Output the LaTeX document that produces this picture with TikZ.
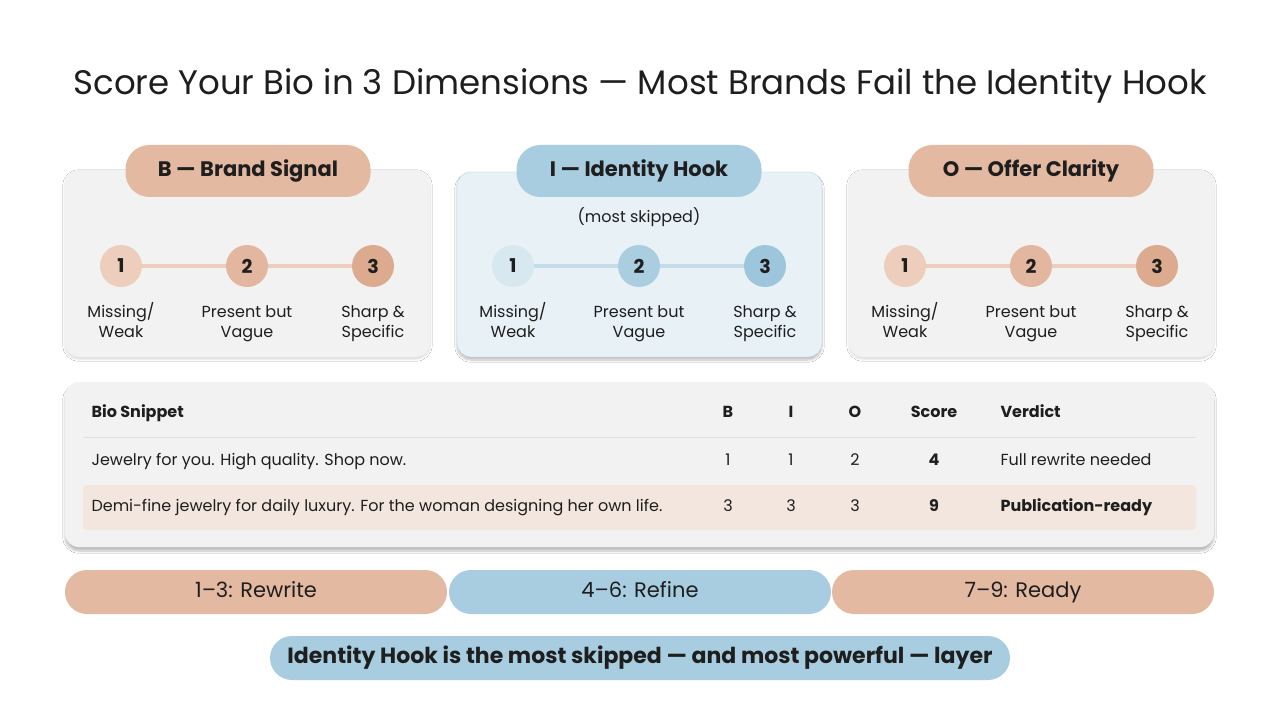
\documentclass[tikz,border=0pt]{standalone}
\usepackage{fontspec}
\setmainfont{Poppins}
\usetikzlibrary{shadows.blur}
\definecolor{peach}{HTML}{E3B9A2}
\definecolor{sky}{HTML}{A9CDE0}
\definecolor{card}{HTML}{F2F2F2}
\definecolor{ink}{HTML}{1E1E1E}
\definecolor{pA}{HTML}{EDCDBC}\definecolor{pB}{HTML}{E3B69F}\definecolor{pC}{HTML}{DCAA8F}
\definecolor{bA}{HTML}{D8E8F0}\definecolor{bB}{HTML}{AACDE0}\definecolor{bC}{HTML}{9DC5DB}
\definecolor{rowhl}{HTML}{F3E6DE}
\tikzset{
 cardbox/.style={fill=card,rounded corners=14pt},
 hdrpill/.style={rounded corners=24pt,minimum width=245pt,minimum height=52pt,font=\fontsize{21}{24}\selectfont\bfseries,text=ink},
 dot/.style={circle,minimum size=42pt,inner sep=0pt,font=\fontsize{19}{22}\selectfont\bfseries,text=ink},
 lab/.style={align=center,font=\fontsize{16}{20}\selectfont,text=ink},
 cell/.style={font=\fontsize{16}{20}\selectfont,text=ink,text height=12pt,text depth=4pt},
 hcell/.style={font=\fontsize{16}{20}\selectfont\bfseries,text=ink,text height=12pt,text depth=4pt},
 band/.style={rounded corners=22pt,minimum height=44pt,text height=15pt,text depth=5pt,font=\fontsize{21}{24}\selectfont,text=ink},
}
\begin{document}
\begin{tikzpicture}[x=1pt,y=-1pt]
\fill[white] (0,0) rectangle (1280,714);
\node[font=\fontsize{34}{38}\selectfont,text=ink] (title) at (640,86) {Score Your Bio in 3 Dimensions — Most Brands Fail the Identity Hook};
% cards
\fill[cardbox,blur shadow={shadow blur steps=6,shadow xshift=0pt,shadow yshift=-2pt,shadow opacity=15}] (65,170) rectangle (430,357);
\fill[cardbox,blur shadow={shadow blur steps=6,shadow xshift=0pt,shadow yshift=-2pt,shadow opacity=15}] (849,170) rectangle (1214,357);
\draw[fill=bA!60,draw=sky!80,rounded corners=14pt,blur shadow={shadow blur steps=8,shadow xshift=0pt,shadow yshift=-3pt,shadow opacity=25}] (457,172) rectangle (822,357);
\node[hdrpill,fill=peach] (pb) at (248,171) {B — Brand Signal};
\node[hdrpill,fill=sky] (pi) at (639,171) {I — Identity Hook};
\node[hdrpill,fill=peach] (po) at (1031,171) {O — Offer Clarity};
\node[lab] (ms) at (639,217) {(most skipped)};
% circles
\foreach \p/\x/\ca/\cb/\cc/\ln in {b/121/pA/pB/pC/pA, i/513/bA/bB/bC/bB!70, o/905/pA/pB/pC/pA}{
 \node[dot,fill=\ca] (\p1) at (\x,266) {1};
 \node[dot,fill=\cb] (\p2) at (\x+126,266) {2};
 \node[dot,fill=\cc] (\p3) at (\x+252,266) {3};
 \draw[line width=3pt,\ln] (\p1) -- (\p2);
 \draw[line width=3pt,\ln] (\p2) -- (\p3);
 \node[lab,anchor=base] (\p l1) at (\x,337) {Missing/\\Weak};
 \node[lab,anchor=base] (\p l2) at (\x+126,337) {Present but\\Vague};
 \node[lab,anchor=base] (\p l3) at (\x+252,337) {Sharp \&\\Specific};
}
% table
\fill[cardbox,blur shadow={shadow blur steps=8,shadow xshift=0pt,shadow yshift=-4pt,shadow opacity=25}] (65,382) rectangle (1214,547);
\draw[black!12,line width=1pt] (83,437) -- (1196,437);
\fill[rowhl,rounded corners=4pt] (83,485) rectangle (1196,530);
\node[hcell,anchor=west] (h1) at (88,413) {Bio Snippet};
\node[hcell] (h2) at (728,413) {B};
\node[hcell] (h3) at (791,413) {I};
\node[hcell] (h4) at (855,413) {O};
\node[hcell] (h5) at (934,413) {Score};
\node[hcell,anchor=west] (h6) at (997,413) {Verdict};
\node[cell,anchor=west] (r1) at (88,461) {Jewelry for you. High quality. Shop now.};
\node[cell] at (728,461) {1};\node[cell] at (791,461) {1};\node[cell] at (855,461) {2};
\node[hcell] at (934,461) {4};
\node[cell,anchor=west] at (997,461) {Full rewrite needed};
\node[cell,anchor=west] (r2) at (88,507) {Demi-fine jewelry for daily luxury. For the woman designing her own life.};
\node[cell] at (728,507) {3};\node[cell] at (791,507) {3};\node[cell] at (855,507) {3};
\node[hcell] at (934,507) {9};
\node[hcell,anchor=west] at (997,507) {Publication-ready};
% bands
\node[band,fill=peach,minimum width=382pt] (s1) at (256,592) {1–3: Rewrite};
\node[band,fill=sky,minimum width=382pt] (s2) at (640,592) {4–6: Refine};
\node[band,fill=peach,minimum width=382pt] (s3) at (1023,592) {7–9: Ready};
\node[band,fill=sky,minimum width=740pt,font=\fontsize{22}{26}\selectfont\bfseries] (msg) at (640,658) {Identity Hook is the most skipped — and most powerful — layer};
\end{tikzpicture}
\end{document}
